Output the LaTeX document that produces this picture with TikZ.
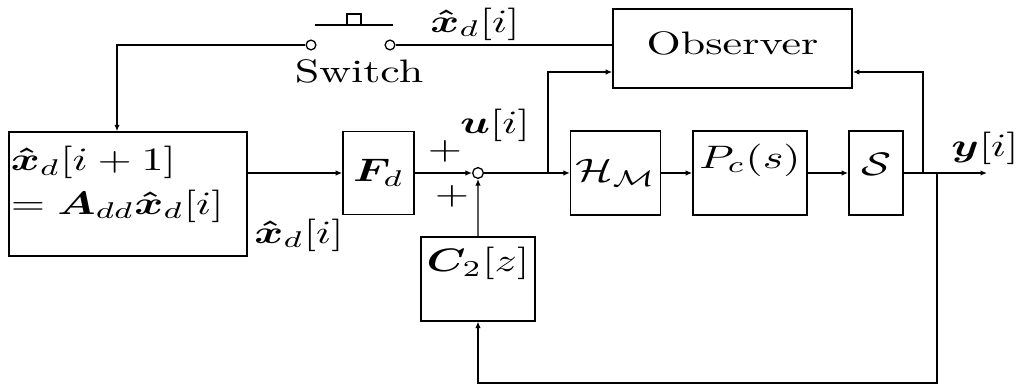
\documentclass[tikz,border=0pt]{standalone}
\usepackage{amsmath,amssymb}
\usepackage{bm}
\usepackage{tikz}
\usetikzlibrary{arrows.meta,calc}

\begin{document}
\begin{tikzpicture}[
    x=0.3077pt, y=-0.3077pt,
    blk/.style={rectangle, draw, xscale=1.354, inner sep=1pt},
    lbl/.style={xscale=1.354, inner sep=0pt},
    junc/.style={circle, draw, inner sep=0pt, minimum size=3.3pt},
    contact/.style={circle, draw, inner sep=0pt, minimum size=3pt},
    arr/.style={-{Latex[length=2pt,width=1.7pt]}}
]
    \useasboundingbox (0,0) rectangle (1021,390);

    \node[blk, minimum width=54.1pt, minimum height=38.2pt] (dyn) at (128,194) {};
    \node[lbl, anchor=west, align=left] (dyntxt) at (10,184)
          {$\bm{\hat{x}}_d[i+1]$\\[1.5pt]$= \bm{A}_{dd}\bm{\hat{x}}_d[i]$};
    \node[blk, minimum width=16.1pt, minimum height=25.5pt] (Fd)  at (378.5,173) {$\bm{F}_d$};
    \node[junc]                                              (sum) at (478,173) {};
    \node[blk, minimum width=25.9pt, minimum height=25.8pt, text depth=12.3pt]
                                                             (C2)  at (478,279) {$\bm{C}_2[z]$};
    \node[blk, minimum width=20.2pt, minimum height=25.8pt] (H)   at (615.5,173) {$\mathcal{H}_{\mathcal{M}}$};
    \node[blk, minimum width=25.9pt, minimum height=25.8pt, text depth=10.5pt]
                                                             (Pc)  at (750,173) {$P_c(s)$};
    \node[blk, minimum width=12.3pt, minimum height=25.8pt, text depth=5.6pt]
                                                             (S)   at (876,173) {$\mathcal{S}$};
    \node[blk, minimum width=54.3pt, minimum height=24.3pt, text depth=3.4pt]
                                                             (obs) at (732.5,48.5) {Observer};

    \node[contact] (swl) at (311,45) {};
    \node[contact] (swr) at (390,45) {};
    \draw (315,25) -- (393,25);
    \draw (347,14) rectangle (361,25);
    \node[lbl] (swlbl) at (359,71) {Switch};

    \node[lbl] (xtop) at (475,24)  {$\bm{\hat{x}}_d[i]$};
    \node[lbl] (xbot) at (299,235) {$\bm{\hat{x}}_d[i]$};
    \node[lbl] (ulbl) at (495,125) {$\bm{u}[i]$};
    \node[lbl] (ylbl) at (985,148) {$\bm{y}[i]$};
    \node[lbl] (pa)   at (445,151) {$+$};
    \node[lbl] (pb)   at (452,196) {$+$};

    \coordinate (swin) at (117,45);
    \coordinate (br1)  at (548,173);
    \coordinate (br2)  at (923,173);
    \coordinate (br3)  at (937,173);
    \coordinate (out)  at (987,173);

    \draw[arr] (swl) -- (swin) -- (swin |- dyn.north);
    \draw      (swr) -- (swr -| obs.west);
    \draw[arr] (dyn.east |- Fd) -- (Fd);
    \draw[arr] (Fd)  -- (sum);
    \draw[arr] (C2)  -- (sum);
    \draw[arr] (sum) -- (H);
    \draw[arr] (br1) |- (obs.west |- 0,72);
    \draw[arr] (H)   -- (Pc);
    \draw[arr] (Pc)  -- (S);
    \draw[arr] (S)   -- (out);
    \draw[arr] (br2) |- (obs.east |- 0,72);
    \draw[arr] (br3) -- (br3 |- 0,383) -| (C2.south);
\end{tikzpicture}
\end{document}
